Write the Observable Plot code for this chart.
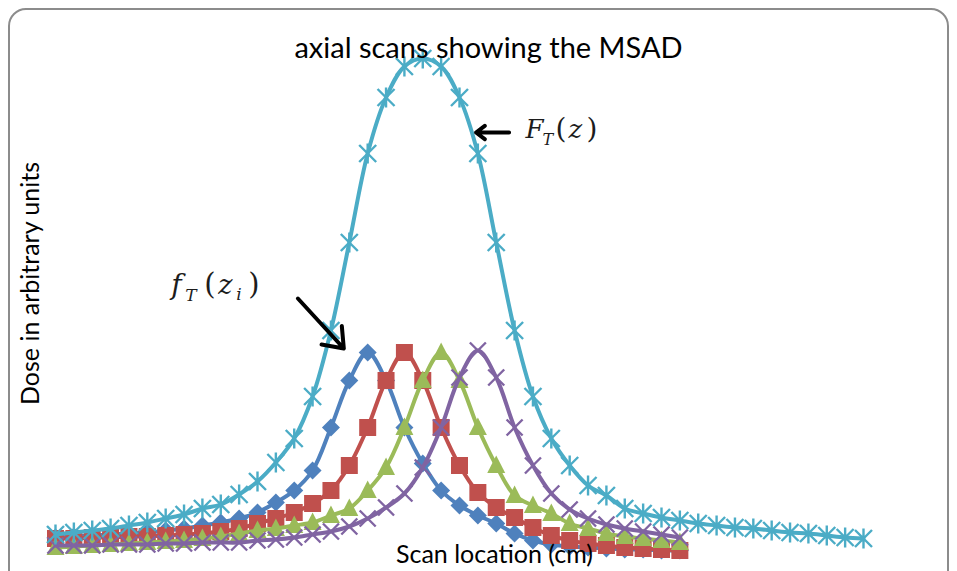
<!DOCTYPE html>
<html><head><meta charset="utf-8">
<script src="https://cdn.jsdelivr.net/npm/d3@7"></script>
<script src="https://cdn.jsdelivr.net/npm/@observablehq/plot@0.6"></script>
<style>
body{margin:0;background:#fff;}
#wrap{position:relative;width:957px;height:571px;overflow:hidden;background:#fff;}
#frame{position:absolute;left:8px;top:8px;width:941px;height:640px;border:2px solid #8c8c8c;border-radius:18px;box-sizing:border-box;}
#chart{position:absolute;left:0;top:0;}
</style></head><body>
<div id="wrap"><div id="frame"></div><div id="chart"></div></div>
<script>
// ---- data (dose, arbitrary units; one value per scan-location step) ----
const titleText = "axial scans showing the MSAD";
const xLabel = "Scan location (cm)";
const yLabel = "Dose in arbitrary units";

// F_T(z): total (accumulated) profile, 45 steps
const totalF = [5.2,5.6,6.0,6.4,7.0,7.6,8.4,9.2,10.4,11.2,13.2,15.8,19.6,24.4,32.8,46,63.6,81.4,92.6,98.8,100.4,98.8,92.6,81.4,63.6,46,32.8,24.4,19,15,13,10.4,9.4,8.6,8,7.4,7,6.6,6.4,6,5.6,5.4,5,4.6,4.4];
// f_T(z_i): single axial scans, 35 steps each
const scan1 = [4.6,4.8,5.0,5.2,5.4,5.6,6.0,6.4,7.0,7.6,8.4,9.6,11.6,14.0,18.0,26.6,36.0,41.6,36.0,26.6,19.4,14.0,11.0,9.0,7.4,5.4,4.0,3.2,2.8,2.6,2.4,2.2,2.2,2.0,2.0];
const scan2 = [4.4,4.4,4.6,4.6,4.8,4.8,5.0,5.2,5.4,5.8,6.4,7.4,8.4,9.6,11.4,14.0,19.0,26.6,36.0,41.6,36.0,26.6,19.0,13.6,10.6,8.6,6.6,5.0,4.0,3.4,3.0,2.6,2.4,2.2,2.0];
const scan3 = [2.6,2.8,3.0,3.2,3.4,3.6,3.8,4.0,4.4,4.8,5.4,6.0,6.4,7.0,7.6,9.0,10.4,14.0,18.6,26.6,36.0,41.6,36.0,26.6,19.0,13.0,11.0,9.4,7.4,6.4,5.4,4.8,4.4,4.0,3.6];
const scan4 = [3.0,3.0,3.0,3.2,3.2,3.2,3.4,3.4,3.6,3.6,3.6,4.0,4.2,4.6,5.2,5.8,6.8,8.4,10.6,13.4,18.6,26.6,36.6,42.0,36.6,26.6,19.0,13.4,10.2,8.4,7.2,6.4,5.8,5.2,4.6];

// ---- styling ----
const sym = {
  diamond: {draw(c){const h=9;c.moveTo(0,-h);c.lineTo(h,0);c.lineTo(0,h);c.lineTo(-h,0);c.closePath();}},
  square: {draw(c){const h=8.5;c.moveTo(-h,-h);c.lineTo(h,-h);c.lineTo(h,h);c.lineTo(-h,h);c.closePath();}},
  triangle: {draw(c){c.moveTo(0,-10);c.lineTo(9,7.5);c.lineTo(-9,7.5);c.closePath();}},
  cross: {draw(c){const h=8;c.moveTo(-h,-h);c.lineTo(h,h);c.moveTo(h,-h);c.lineTo(-h,h);}},
  star: {draw(c){const h=8.5;c.moveTo(-h,-h);c.lineTo(h,h);c.moveTo(h,-h);c.lineTo(-h,h);c.moveTo(0,-h-1.5);c.lineTo(0,h+1.5);}}
};
const seriesDefs = [
  {name:"scan1", values:scan1, color:"#4F81BD", symbol:sym.diamond, filled:true},
  {name:"scan2", values:scan2, color:"#C0504D", symbol:sym.square, filled:true},
  {name:"scan3", values:scan3, color:"#9BBB59", symbol:sym.triangle, filled:true},
  {name:"scan4", values:scan4, color:"#8064A2", symbol:sym.cross, filled:false},
  {name:"total", values:totalF, color:"#4BACC6", symbol:sym.star, filled:false}
];

const labelFont = "Lato, 'Open Sans', sans-serif";
const mathFont = "'DejaVu Serif', 'Liberation Serif', serif";

const marks = [];
for (const s of seriesDefs) {
  const rows = s.values.map((v, i) => ({i, dose: v}));
  marks.push(Plot.line(rows, {x: "i", y: "dose", stroke: s.color, strokeWidth: 4, curve: "catmull-rom"}));
  marks.push(Plot.dot(rows, {x: "i", y: "dose", symbol: s.symbol, r: 5,
    fill: s.filled ? s.color : "none", stroke: s.color, strokeWidth: s.filled ? 0 : 2.4}));
}

// annotations (data coordinates)
const arrowF = [{x1: 24.7, y1: 85.6, x2: 22.9, y2: 85.6}];
const arrowf = [{x1: 13.2, y1: 52.4, x2: 15.7, y2: 42.4}];
marks.push(Plot.arrow(arrowF, {x1:"x1", y1:"y1", x2:"x2", y2:"y2", stroke:"#000", strokeWidth:4, headLength:16, headAngle:75}));
marks.push(Plot.arrow(arrowf, {x1:"x1", y1:"y1", x2:"x2", y2:"y2", stroke:"#000", strokeWidth:4, headLength:16, headAngle:75}));

function formula(anchor, pieces) {
  for (const p of pieces) {
    marks.push(Plot.text([anchor], {x: "x", y: "y", text: () => p.t, dx: p.dx, dy: p.dy || 0,
      textAnchor: "start", lineAnchor: "bottom", fontSize: p.size, fontStyle: p.italic ? "italic" : "normal",
      fontFamily: mathFont, fill: "#1c1c1c"}));
  }
}
formula({x: 25.6, y: 84.6}, [
  {t:"F", dx:0, size:26, italic:true},
  {t:"T", dx:17, dy:7, size:16, italic:true},
  {t:"(", dx:30, size:28},
  {t:"z", dx:43, size:26, italic:true},
  {t:")", dx:61, size:28}
]);
formula({x: 6.3, y: 53.4}, [
  {t:"f", dx:0, size:28, italic:true},
  {t:"T", dx:14, dy:7, size:17, italic:true},
  {t:"(", dx:33, size:29},
  {t:"z", dx:47, size:27, italic:true},
  {t:"i", dx:65, dy:6, size:17, italic:true},
  {t:")", dx:77, size:29}
]);

// titles
marks.push(Plot.text([titleText], {frameAnchor: "top", dx: 29, dy: -12, textAnchor: "middle", lineAnchor: "middle", fontSize: 29, fontFamily: labelFont, fill: "#000"}));
marks.push(Plot.text([xLabel], {frameAnchor: "bottom", dx: 35, dy: -6, textAnchor: "middle", lineAnchor: "middle", fontSize: 25, fontFamily: labelFont, fill: "#000"}));
marks.push(Plot.text([yLabel], {frameAnchor: "left", dx: -25, dy: -27, rotate: -90, textAnchor: "middle", lineAnchor: "middle", fontSize: 25, fontFamily: labelFont, fill: "#000"}));

const chart = Plot.plot({
  width: 957, height: 571,
  marginLeft: 55, marginRight: 94, marginTop: 60, marginBottom: 11,
  x: {domain: [0, 44], axis: null},
  y: {domain: [0, 100], axis: null},
  style: {background: "transparent", overflow: "visible"},
  marks
});
document.getElementById("chart").appendChild(chart);
</script>
</body></html>
